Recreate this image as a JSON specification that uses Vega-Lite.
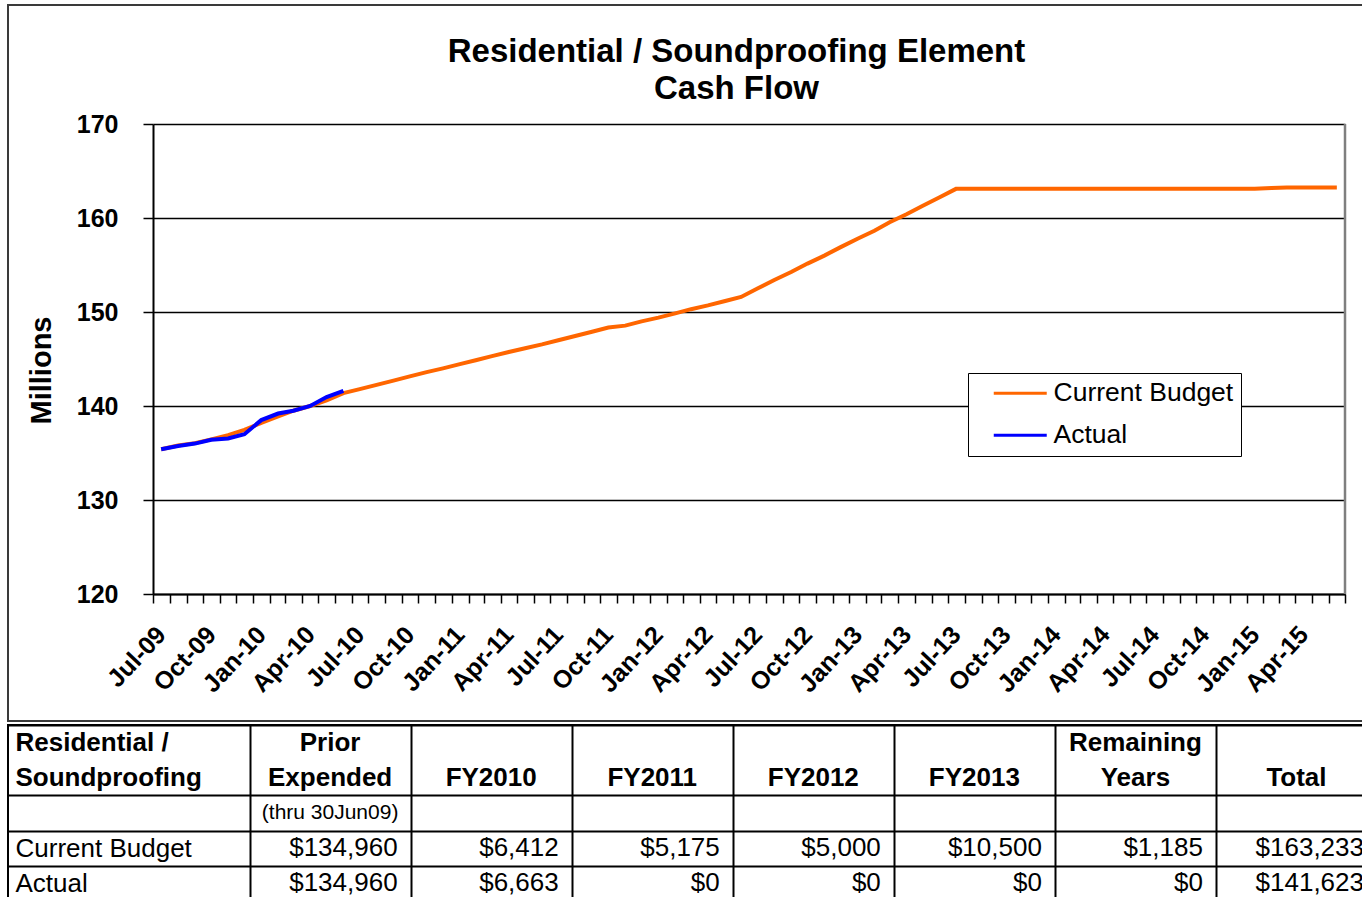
{
  "$schema": "https://vega.github.io/schema/vega-lite/v6.json",
  "background": "white",
  "padding": {"left": 7, "top": 4, "right": 0, "bottom": 0},
  "config": {
    "font": "Liberation Sans",
    "view": {"stroke": null},
    "axis": {"labelColor": "black", "titleColor": "black"},
    "legend": {"labelColor": "black"}
  },
  "spacing": -11,
  "resolve": {"scale": {"x": "independent", "y": "independent"}},
  "datasets": {
    "lines": [
      {"date": "2009-07-16", "series": "Current Budget", "value": 135.4},
      {"date": "2009-08-16", "series": "Current Budget", "value": 135.8},
      {"date": "2009-09-16", "series": "Current Budget", "value": 136.05},
      {"date": "2009-10-16", "series": "Current Budget", "value": 136.45},
      {"date": "2009-11-16", "series": "Current Budget", "value": 136.9},
      {"date": "2009-12-16", "series": "Current Budget", "value": 137.45},
      {"date": "2010-01-16", "series": "Current Budget", "value": 138.2},
      {"date": "2010-02-16", "series": "Current Budget", "value": 138.9},
      {"date": "2010-03-16", "series": "Current Budget", "value": 139.5},
      {"date": "2010-04-16", "series": "Current Budget", "value": 140.0},
      {"date": "2010-05-16", "series": "Current Budget", "value": 140.6},
      {"date": "2010-06-16", "series": "Current Budget", "value": 141.37},
      {"date": "2010-07-16", "series": "Current Budget", "value": 141.8},
      {"date": "2010-08-16", "series": "Current Budget", "value": 142.25},
      {"date": "2010-09-16", "series": "Current Budget", "value": 142.7},
      {"date": "2010-10-16", "series": "Current Budget", "value": 143.15},
      {"date": "2010-11-16", "series": "Current Budget", "value": 143.6},
      {"date": "2010-12-16", "series": "Current Budget", "value": 144.0},
      {"date": "2011-01-16", "series": "Current Budget", "value": 144.45},
      {"date": "2011-02-16", "series": "Current Budget", "value": 144.9},
      {"date": "2011-03-16", "series": "Current Budget", "value": 145.3},
      {"date": "2011-04-16", "series": "Current Budget", "value": 145.75},
      {"date": "2011-05-16", "series": "Current Budget", "value": 146.15},
      {"date": "2011-06-16", "series": "Current Budget", "value": 146.55},
      {"date": "2011-07-16", "series": "Current Budget", "value": 147.0},
      {"date": "2011-08-16", "series": "Current Budget", "value": 147.45},
      {"date": "2011-09-16", "series": "Current Budget", "value": 147.9},
      {"date": "2011-10-16", "series": "Current Budget", "value": 148.35},
      {"date": "2011-11-16", "series": "Current Budget", "value": 148.55},
      {"date": "2011-12-16", "series": "Current Budget", "value": 149.0},
      {"date": "2012-01-16", "series": "Current Budget", "value": 149.4},
      {"date": "2012-02-16", "series": "Current Budget", "value": 149.85},
      {"date": "2012-03-16", "series": "Current Budget", "value": 150.3},
      {"date": "2012-04-16", "series": "Current Budget", "value": 150.7},
      {"date": "2012-05-16", "series": "Current Budget", "value": 151.15},
      {"date": "2012-06-16", "series": "Current Budget", "value": 151.6},
      {"date": "2012-07-16", "series": "Current Budget", "value": 152.5},
      {"date": "2012-08-16", "series": "Current Budget", "value": 153.4},
      {"date": "2012-09-16", "series": "Current Budget", "value": 154.25},
      {"date": "2012-10-16", "series": "Current Budget", "value": 155.15},
      {"date": "2012-11-16", "series": "Current Budget", "value": 156.0},
      {"date": "2012-12-16", "series": "Current Budget", "value": 156.9},
      {"date": "2013-01-16", "series": "Current Budget", "value": 157.8},
      {"date": "2013-02-16", "series": "Current Budget", "value": 158.65},
      {"date": "2013-03-16", "series": "Current Budget", "value": 159.55},
      {"date": "2013-04-16", "series": "Current Budget", "value": 160.4},
      {"date": "2013-05-16", "series": "Current Budget", "value": 161.3},
      {"date": "2013-06-16", "series": "Current Budget", "value": 162.2},
      {"date": "2013-07-16", "series": "Current Budget", "value": 163.1},
      {"date": "2013-08-16", "series": "Current Budget", "value": 163.1},
      {"date": "2013-09-16", "series": "Current Budget", "value": 163.1},
      {"date": "2013-10-16", "series": "Current Budget", "value": 163.1},
      {"date": "2013-11-16", "series": "Current Budget", "value": 163.1},
      {"date": "2013-12-16", "series": "Current Budget", "value": 163.1},
      {"date": "2014-01-16", "series": "Current Budget", "value": 163.1},
      {"date": "2014-02-16", "series": "Current Budget", "value": 163.1},
      {"date": "2014-03-16", "series": "Current Budget", "value": 163.1},
      {"date": "2014-04-16", "series": "Current Budget", "value": 163.1},
      {"date": "2014-05-16", "series": "Current Budget", "value": 163.1},
      {"date": "2014-06-16", "series": "Current Budget", "value": 163.1},
      {"date": "2014-07-16", "series": "Current Budget", "value": 163.1},
      {"date": "2014-08-16", "series": "Current Budget", "value": 163.1},
      {"date": "2014-09-16", "series": "Current Budget", "value": 163.1},
      {"date": "2014-10-16", "series": "Current Budget", "value": 163.1},
      {"date": "2014-11-16", "series": "Current Budget", "value": 163.1},
      {"date": "2014-12-16", "series": "Current Budget", "value": 163.1},
      {"date": "2015-01-16", "series": "Current Budget", "value": 163.1},
      {"date": "2015-02-16", "series": "Current Budget", "value": 163.18},
      {"date": "2015-03-16", "series": "Current Budget", "value": 163.25},
      {"date": "2015-04-16", "series": "Current Budget", "value": 163.25},
      {"date": "2015-05-16", "series": "Current Budget", "value": 163.25},
      {"date": "2015-06-16", "series": "Current Budget", "value": 163.25},
      {"date": "2009-07-16", "series": "Actual", "value": 135.39},
      {"date": "2009-08-16", "series": "Actual", "value": 135.75},
      {"date": "2009-09-16", "series": "Actual", "value": 136.0},
      {"date": "2009-10-16", "series": "Actual", "value": 136.4},
      {"date": "2009-11-16", "series": "Actual", "value": 136.55},
      {"date": "2009-12-16", "series": "Actual", "value": 137.0},
      {"date": "2010-01-16", "series": "Actual", "value": 138.5},
      {"date": "2010-02-16", "series": "Actual", "value": 139.2},
      {"date": "2010-03-16", "series": "Actual", "value": 139.5},
      {"date": "2010-04-16", "series": "Actual", "value": 140.0},
      {"date": "2010-05-16", "series": "Actual", "value": 140.95},
      {"date": "2010-06-16", "series": "Actual", "value": 141.62}
    ],
    "frame": [
      {"start": "2015-07-01", "low": 120, "high": 170}
    ],
    "table": [
      {"row": "head1", "col": "Prior Expended", "text": "Prior", "kind": "head"},
      {"row": "head2", "col": "Prior Expended", "text": "Expended", "kind": "head"},
      {"row": "head2", "col": "FY2010", "text": "FY2010", "kind": "head"},
      {"row": "head2", "col": "FY2011", "text": "FY2011", "kind": "head"},
      {"row": "head2", "col": "FY2012", "text": "FY2012", "kind": "head"},
      {"row": "head2", "col": "FY2013", "text": "FY2013", "kind": "head"},
      {"row": "head1", "col": "Remaining Years", "text": "Remaining", "kind": "head"},
      {"row": "head2", "col": "Remaining Years", "text": "Years", "kind": "head"},
      {"row": "head2", "col": "Total", "text": "Total", "kind": "head"},
      {"row": "sub", "col": "Prior Expended", "text": "(thru 30Jun09)", "kind": "note"},
      {"row": "Current Budget", "col": "Prior Expended", "text": "$134,960", "kind": "val"},
      {"row": "Current Budget", "col": "FY2010", "text": "$6,412", "kind": "val"},
      {"row": "Current Budget", "col": "FY2011", "text": "$5,175", "kind": "val"},
      {"row": "Current Budget", "col": "FY2012", "text": "$5,000", "kind": "val"},
      {"row": "Current Budget", "col": "FY2013", "text": "$10,500", "kind": "val"},
      {"row": "Current Budget", "col": "Remaining Years", "text": "$1,185", "kind": "val"},
      {"row": "Current Budget", "col": "Total", "text": "$163,233", "kind": "val"},
      {"row": "Actual", "col": "Prior Expended", "text": "$134,960", "kind": "val"},
      {"row": "Actual", "col": "FY2010", "text": "$6,663", "kind": "val"},
      {"row": "Actual", "col": "FY2011", "text": "$0", "kind": "val"},
      {"row": "Actual", "col": "FY2012", "text": "$0", "kind": "val"},
      {"row": "Actual", "col": "FY2013", "text": "$0", "kind": "val"},
      {"row": "Actual", "col": "Remaining Years", "text": "$0", "kind": "val"},
      {"row": "Actual", "col": "Total", "text": "$141,623", "kind": "val"}
    ]
  },
  "vconcat": [
    {
      "width": 1369,
      "height": 716,
      "view": {"stroke": "#3a3a3a", "strokeWidth": 2},
      "title": {
        "text": ["Residential / Soundproofing Element", "Cash Flow"],
        "fontSize": 33, "fontWeight": "bold", "lineHeight": 37,
        "anchor": "middle", "dx": 44, "offset": -101, "color": "black"
      },
      "encoding": {
        "x": {
          "field": "date", "type": "temporal",
          "scale": {"type": "utc", "domain": [{"year": 2009, "month": 7, "date": 1, "utc": true}, {"year": 2015, "month": 7, "date": 1, "utc": true}], "range": [145, 1337]},
          "axis": {
            "title": null,
            "offset": -127,
            "tickCount": {"interval": "month", "step": 1},
            "labelExpr": "utcmonth(datum.value) % 3 === 0 && datum.value < utc(2015, 6, 1) ? utcFormat(datum.value, '%b-%y') : ''",
            "labelAngle": -47, "labelAlign": "right", "labelBaseline": "middle",
            "labelOffset": 8, "labelPadding": 27,
            "labelFontSize": 25, "labelFontWeight": "bold",
            "labelOverlap": false, "labelFlush": false, "labelBound": false,
            "grid": false,
            "domainColor": "black", "domainWidth": 2,
            "tickColor": "black", "tickSize": 9, "tickWidth": 1.5
          }
        },
        "y": {
          "field": "value", "type": "quantitative",
          "scale": {"domain": [120, 170], "nice": false, "zero": false, "range": [589, 119]},
          "axis": {
            "offset": -145,
            "values": [120, 130, 140, 150, 160, 170],
            "grid": true, "gridColor": "black", "gridWidth": 1.5,
            "domainColor": "black", "domainWidth": 2,
            "tickColor": "black", "tickSize": 10, "tickWidth": 1.5,
            "labelFontSize": 25, "labelFontWeight": "bold", "labelPadding": 25,
            "title": "Millions", "titleFontSize": 29, "titleFontWeight": "bold", "titlePadding": 20,
            "titleY": 365
          }
        }
      },
      "layer": [
        {
          "data": {"name": "frame"},
          "mark": {"type": "rule", "color": "#7f7f7f", "strokeWidth": 2.5},
          "encoding": {
            "x": {"field": "start", "type": "temporal"},
            "y": {"field": "low", "type": "quantitative"},
            "y2": {"field": "high"}
          }
        },
        {
          "data": {"name": "lines"},
          "transform": [{"filter": "datum.series === 'Current Budget'"}],
          "mark": {"type": "line", "strokeWidth": 4},
          "encoding": {
            "color": {
              "field": "series", "type": "nominal",
              "scale": {"domain": ["Current Budget", "Actual"], "range": ["#FF6600", "#0000FF"]},
              "legend": {
                "title": null, "orient": "none", "legendX": 960, "legendY": 368,
                "strokeColor": "black", "fillColor": "white", "padding": 7,
                "labelFontSize": 26.5, "labelColor": "black", "labelLimit": 400,
                "symbolType": "M-3,0H3", "symbolSize": 312, "symbolStrokeWidth": 3,
                "symbolOffset": 32, "labelOffset": 20, "rowPadding": 15
              }
            }
          }
        },
        {
          "data": {"name": "lines"},
          "transform": [{"filter": "datum.series === 'Actual'"}],
          "mark": {"type": "line", "strokeWidth": 4},
          "encoding": {
            "color": {"field": "series", "type": "nominal"}
          }
        }
      ]
    },
    {
      "width": 1369,
      "height": 176,
      "view": {"stroke": "black", "strokeWidth": 2},
      "data": {"name": "table"},
      "encoding": {
        "x": {
          "field": "col", "type": "nominal",
          "scale": {"domain": ["Prior Expended", "FY2010", "FY2011", "FY2012", "FY2013", "Remaining Years", "Total"], "paddingInner": 0, "paddingOuter": 0.75, "align": 1},
          "axis": {"orient": "bottom", "tickBand": "extent", "grid": true, "gridColor": "black", "gridWidth": 2, "labels": false, "ticks": false, "domain": false, "title": null}
        },
        "y": {
          "field": "row", "type": "nominal",
          "scale": {"domain": ["head1", "head2", "sub", "Current Budget", "Actual"], "paddingInner": 0, "paddingOuter": 0},
          "axis": {
            "orient": "left", "tickBand": "extent", "grid": true, "gridColor": "black", "gridWidth": 2,
            "gridOpacity": {"condition": {"test": "datum.value === 'head1'", "value": 0}, "value": 1},
            "ticks": false, "tickSize": 0, "domain": false, "title": null,
            "labelExpr": "datum.value === 'head1' ? 'Residential /' : datum.value === 'head2' ? 'Soundproofing' : datum.value === 'sub' ? '' : datum.value",
            "labelAlign": "left", "labelPadding": -7, "labelFontSize": 26, "labelLimit": 400,
            "labelFontWeight": {"condition": {"test": "datum.value === 'head1' || datum.value === 'head2'", "value": "bold"}, "value": "normal"}
          }
        }
      },
      "layer": [
        {
          "transform": [{"filter": "datum.kind === 'head'"}],
          "mark": {"type": "text", "fontSize": 26, "fontWeight": "bold", "color": "black"},
          "encoding": {"text": {"field": "text"}}
        },
        {
          "transform": [{"filter": "datum.kind === 'note'"}],
          "mark": {"type": "text", "fontSize": 21, "color": "black"},
          "encoding": {"text": {"field": "text"}}
        },
        {
          "transform": [{"filter": "datum.kind === 'val'"}],
          "mark": {"type": "text", "fontSize": 26, "color": "black", "align": "right", "dx": -13},
          "encoding": {
            "text": {"field": "text"},
            "x": {"field": "col", "type": "nominal", "bandPosition": 1}
          }
        }
      ]
    }
  ]
}
